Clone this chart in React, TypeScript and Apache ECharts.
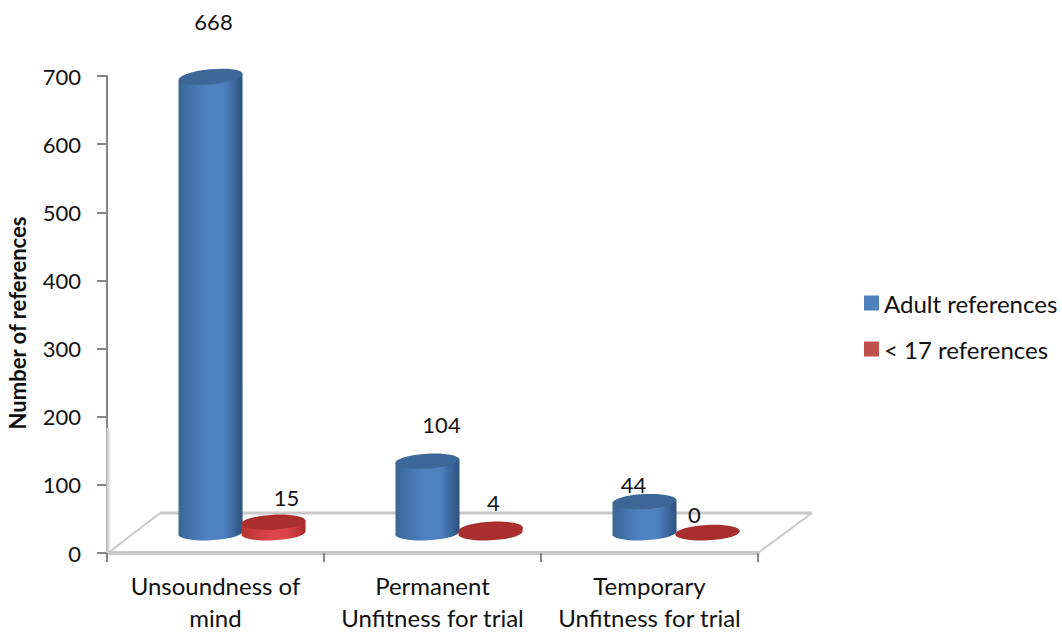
import React, { useEffect, useRef } from "react";
import * as echarts from "echarts";

const categories = ["Unsoundness of\nmind", "Permanent\nUnfitness for trial", "Temporary\nUnfitness for trial"];
const adultValues = [668, 104, 44];
const minorValues = [15, 4, 0];
const seriesNames = ["Adult references", "< 17 references"];
const yTicks = { min: 0, max: 700, interval: 100 };

// Pixel nudges for each value label, measured from the top of its cylinder.
const adultLabelNudge = [[3, -55], [14, -37], [-11, -18]];
const minorLabelNudge = [[13, -24], [3, -27], [-13, -18]];

const FONT = "Lato, 'Open Sans', sans-serif";
const RX = 32;
const RY = 7.5;
const DEPTH_Y = -21;

interface Palette { edgeL: string; mid: string; edgeR: string; cap: string; rim: string }
const BLUE: Palette = { edgeL: "#3a6797", mid: "#4f82c3", edgeR: "#2d5080", cap: "#3c6797", rim: "#3f70aa" };
const RED: Palette = { edgeL: "#b83232", mid: "#dc464a", edgeR: "#a92c2c", cap: "#a82f2e", rim: "#a82f2e" };

const sideFill = (p: Palette) => ({
  type: "linear", x: 0, y: 0, x2: 1, y2: 0,
  colorStops: [
    { offset: 0, color: p.edgeL },
    { offset: 0.45, color: p.mid },
    { offset: 0.7, color: p.mid },
    { offset: 1, color: p.edgeR },
  ],
});

// One perspective cylinder: side wall, tilted cap and its value label.
// Very short cylinders read as a flat disc, so their wall takes the rim colour.
const cylinder = (dx: number, palette: Palette, nudges: number[][]) => (params: any, api: any) => {
  const idx = api.value(0);
  const value = api.value(1);
  const base = api.coord([idx, 0]);
  const top = api.coord([idx, value]);
  const cx = base[0] + dx;
  const by = base[1] + DEPTH_Y;
  const ty = top[1] + DEPTH_Y;
  const tiltTop = 3 + value / 230;
  const tiltBase = 3;
  const rad = (d: number) => (d * Math.PI) / 180;
  const sTop = RX * Math.sin(rad(tiltTop));
  const sBase = RX * Math.sin(rad(tiltBase));
  const wall =
    `M ${cx - RX} ${ty + sTop} L ${cx - RX} ${by + sBase} ` +
    `A ${RX} ${RY} ${-tiltBase} 0 0 ${cx + RX} ${by - sBase} ` +
    `L ${cx + RX} ${ty - sTop} Z`;
  const nudge = nudges[idx];
  return {
    type: "group",
    children: [
      {
        type: "path",
        shape: { pathData: wall },
        style: { fill: value < 10 ? palette.rim : sideFill(palette) },
      },
      {
        type: "ellipse",
        shape: { cx, cy: ty, rx: RX, ry: RY },
        rotation: rad(tiltTop),
        originX: cx,
        originY: ty,
        style: { fill: palette.cap },
      },
      {
        type: "text",
        style: {
          x: cx + nudge[0],
          y: ty + nudge[1],
          text: String(value),
          fill: "#111111",
          font: `22px ${FONT}`,
          align: "center",
          verticalAlign: "middle",
        },
      },
    ],
  };
};

const toPairs = (values: number[]) => values.map((v, i) => [i, v]);

export default function App() {
  const ref = useRef<HTMLDivElement>(null);
  useEffect(() => {
    document.body.style.margin = "0";
    const chart = echarts.init(ref.current!, undefined, { renderer: "svg" });
    const floor = "#c9c9c9";
    chart.setOption({
      animation: false,
      backgroundColor: "#ffffff",
      textStyle: { fontFamily: FONT },
      grid: { left: 107, top: 76, width: 651, height: 477, containLabel: false, outerBoundsMode: "none" },
      legend: {
        orient: "vertical",
        left: 864,
        top: 291,
        itemWidth: 15,
        itemHeight: 15,
        itemGap: 22,
        padding: 0,
        icon: "rect",
        textStyle: { fontSize: 24, color: "#111111", fontFamily: FONT },
        data: seriesNames,
      },
      xAxis: {
        type: "category",
        data: categories,
        axisLine: { lineStyle: { color: floor, width: 4 } },
        axisTick: { show: true, alignWithLabel: false, length: 9, lineStyle: { color: "#868686", width: 2 } },
        axisLabel: { fontSize: 24, lineHeight: 32, color: "#111111", margin: 16, interval: 0, fontFamily: FONT },
      },
      yAxis: {
        type: "value",
        min: yTicks.min,
        max: yTicks.max,
        interval: yTicks.interval,
        name: "Number of references",
        nameLocation: "middle",
        nameGap: 79,
        nameTextStyle: { fontSize: 22, fontWeight: "bold", color: "#111111", fontFamily: FONT, padding: [0, 17, 0, 0] },
        splitLine: { show: false },
        axisLine: { show: true, lineStyle: { color: "#868686", width: 2 } },
        axisTick: { show: true, length: 10, lineStyle: { color: "#868686", width: 2 } },
        axisLabel: { fontSize: 22, color: "#111111", margin: 26, fontFamily: FONT },
      },
      graphic: [
        { type: "line", z: 1, shape: { x1: 108, y1: 428, x2: 108, y2: 553 }, style: { stroke: "#d4d4d4", lineWidth: 3 } },
        { type: "line", z: 1, shape: { x1: 160, y1: 513, x2: 812, y2: 513 }, style: { stroke: floor, lineWidth: 3 } },
        { type: "line", z: 1, shape: { x1: 108, y1: 553, x2: 160, y2: 513 }, style: { stroke: floor, lineWidth: 2 } },
        { type: "line", z: 1, shape: { x1: 758, y1: 553, x2: 812, y2: 513 }, style: { stroke: floor, lineWidth: 2 } },
      ],
      series: [
        {
          name: seriesNames[0],
          type: "custom",
          z: 3,
          clip: false,
          itemStyle: { color: "#4f81bd" },
          encode: { x: 0, y: 1 },
          data: toPairs(adultValues),
          renderItem: cylinder(-5, BLUE, adultLabelNudge),
        },
        {
          name: seriesNames[1],
          type: "custom",
          z: 4,
          clip: false,
          itemStyle: { color: "#c0504d" },
          encode: { x: 0, y: 1 },
          data: toPairs(minorValues),
          renderItem: cylinder(58, RED, minorLabelNudge),
        },
      ],
    });
    return () => chart.dispose();
  }, []);
  return <div ref={ref} style={{ width: 1062, height: 632 }} />;
}
